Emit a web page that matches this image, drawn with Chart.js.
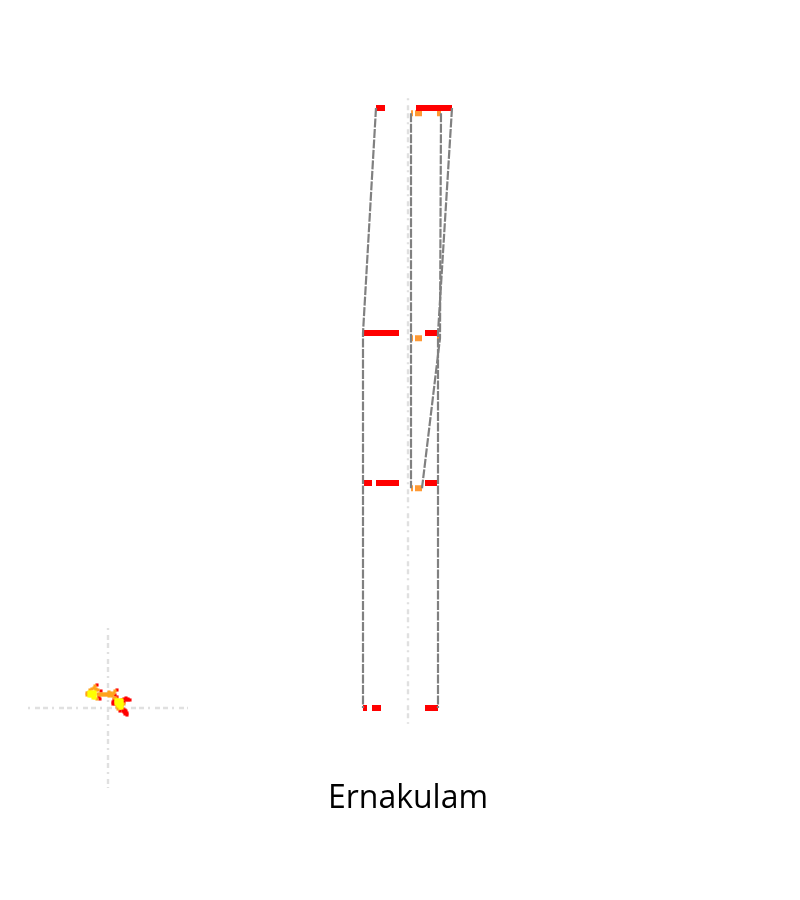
<!DOCTYPE html>
<html>
<head>
<meta charset="utf-8">
<title>Ernakulam</title>
<script src="https://cdn.jsdelivr.net/npm/chart.js@4"></script>
<style>
  html, body { margin: 0; padding: 0; background: #fff; }
  canvas { display: block; }
</style>
</head>
<body>
<canvas id="chart" width="800" height="900"></canvas>
<script>
const titleText = 'Ernakulam'

// red segments per level: [level, start, end]
const redLevels = [8, 8, 5, 5, 3, 3, 3, 0, 0, 0]
const redStarts = [-32, 8, -44, 17, -44, -32, 17, -45, -36, 17]
const redEnds = [-23, 44, -9, 29, -36, -9, 29, -41, -27, 30]

// orange segments per level
const orangeLevels = [7.93, 7.93, 7.93, 4.93, 4.93, 4.93, 2.93, 2.93]
const orangeStarts = [3, 7, 29, 3, 7, 29, 3, 7]
const orangeEnds = [5, 14, 33, 5, 14, 32, 5, 14]

// grey connecting paths
const pathLevelsA = [8, 5, 3, 0]
const pathValuesA = [-32, -45, -45, -45]
const pathLevelsB = [7.93, 4.93, 2.93]
const pathValuesB = [3, 3, 3]
const pathLevelsC = [8, 5, 3, 0]
const pathValuesC = [44, 30, 30, 30]
const pathLevelsD = [7.93, 4.93, 2.93]
const pathValuesD = [33, 32, 14]

// centre axis of the big view
const axisLevels = [8.13, -0.21]

// small view, offsets from its centre
const smallReach = [-80, 80]
const smallRedX = [-11, -9, -8, -7, 9, 7, 9, 6, 5, 5, 7, 16, 18, 20, 22, 14, 16, 15, 17, 17, 19, 19, 12, 14, 18, 16, 18, 20, 15, 17]
const smallRedY = [-23, -11, -9, -17, -18, -13, -11, -8, -6, -4, -4, -9, -10, -9, -8, -8, -6, 1, 2, 4, 5, 7, 3, -3, 3, 4, -8, -8, 3, 6]
const smallOrangeX = [-13, -14, -12, -16, -18, -12, -10, -20, -21, -10, -8, -6, -4, -2, 0, 2, 1, 1, 3, 4, 5, 6, 7, 8, 6, 16, 10, 9, -21, -11, -9, -7, -5, -3, -1, 1, 3]
const smallOrangeY = [-22, -20, -19, -19, -18, -18, -18, -15, -13, -14, -14, -14, -14, -14, -14, -14, -16, -12, -13, -12, -14, -15, -17, -10, -10, -4, 1, -1, -15, -9, -13, -13, -13, -13, -13, -13, -15]
const smallYellowX = [-19, -17, -15, -13, -19, -17, -15, -13, -19, -17, -15, -13, -15, -13, 8, 10, 12, 14, 8, 10, 12, 14, 8, 10, 12, 14, 10, 12, 14, 12, 14]
const smallYellowY = [-16, -16, -16, -16, -14, -14, -14, -14, -12, -12, -12, -12, -10, -10, -8, -8, -8, -8, -6, -6, -6, -6, -4, -4, -4, -4, -2, -2, -2, 0, 0]

const red = '#ff0000'
const orange = '#ff9933'
const smallOrange = '#ffa31a'
const yellow = '#ffff00'
const grey = '#808080'
const axisGrey = '#e0e0e0'
const axisDash = [2, 5, 5, 3, 5, 4]

function segments (levels, starts, ends) {
  const points = []
  levels.forEach((level, i) => {
    points.push({x: starts[i], y: level}, {x: ends[i], y: level}, {x: NaN, y: NaN})
  })
  return points
}

function path (values, levels) {
  return values.map((v, i) => ({x: v, y: levels[i]}))
}

function dots (xs, ys) {
  return xs.map((v, i) => ({x: v, y: ys[i]}))
}

function bandSet (data, color, order) {
  return {data, borderColor: color, borderWidth: 6, borderCapStyle: 'butt', showLine: true, pointRadius: 0, spanGaps: false, order}
}

function pathSet (values, levels) {
  return {data: path(values, levels), borderColor: grey, borderWidth: 2.2, borderDash: [9, 1.5], showLine: true, pointRadius: 0, order: 1}
}

function axisSet (data, xAxisID, yAxisID) {
  return {data, xAxisID, yAxisID, clip: false, borderColor: axisGrey, borderWidth: 2.4, borderDash: axisDash, showLine: true, pointRadius: 0, order: 9}
}

function dotSet (xs, ys, color, order) {
  return {data: dots(xs, ys), xAxisID: 'xs', yAxisID: 'ys', backgroundColor: color, borderWidth: 0, pointStyle: 'rect', pointRadius: 2.2, order}
}

new Chart(document.getElementById('chart'), {
  type: 'scatter',
  data: {
    datasets: [
      axisSet(axisLevels.map(v => ({x: 0, y: v})), 'x', 'y'),
      axisSet(smallReach.map(v => ({x: 0, y: v})), 'xs', 'ys'),
      axisSet(smallReach.map(v => ({x: v, y: 0})), 'xs', 'ys'),
      bandSet(segments(orangeLevels, orangeStarts, orangeEnds), orange, 4),
      bandSet(segments(redLevels, redStarts, redEnds), red, 3),
      pathSet(pathValuesA, pathLevelsA),
      pathSet(pathValuesB, pathLevelsB),
      pathSet(pathValuesC, pathLevelsC),
      pathSet(pathValuesD, pathLevelsD),
      dotSet(smallRedX, smallRedY, red, 7),
      dotSet(smallOrangeX, smallOrangeY, smallOrange, 6),
      dotSet(smallYellowX, smallYellowY, yellow, 5)
    ]
  },
  options: {
    responsive: false,
    animation: false,
    layout: {padding: {left: 16}, autoPadding: false},
    scales: {
      x: {type: 'linear', display: false, min: -392, max: 392},
      y: {type: 'linear', display: false, min: -0.96, max: 9.44},
      xs: {type: 'linear', display: false, min: -92, max: 692},
      ys: {type: 'linear', display: false, reverse: true, min: -708, max: 72}
    },
    plugins: {
      legend: {display: false},
      tooltip: {enabled: false},
      title: {
        display: true,
        text: titleText,
        position: 'bottom',
        color: '#000',
        font: {family: 'Open Sans', size: 32, weight: 'normal', lineHeight: 1},
        padding: {top: 3, bottom: 85}
      }
    }
  }
})
</script>
</body>
</html>
